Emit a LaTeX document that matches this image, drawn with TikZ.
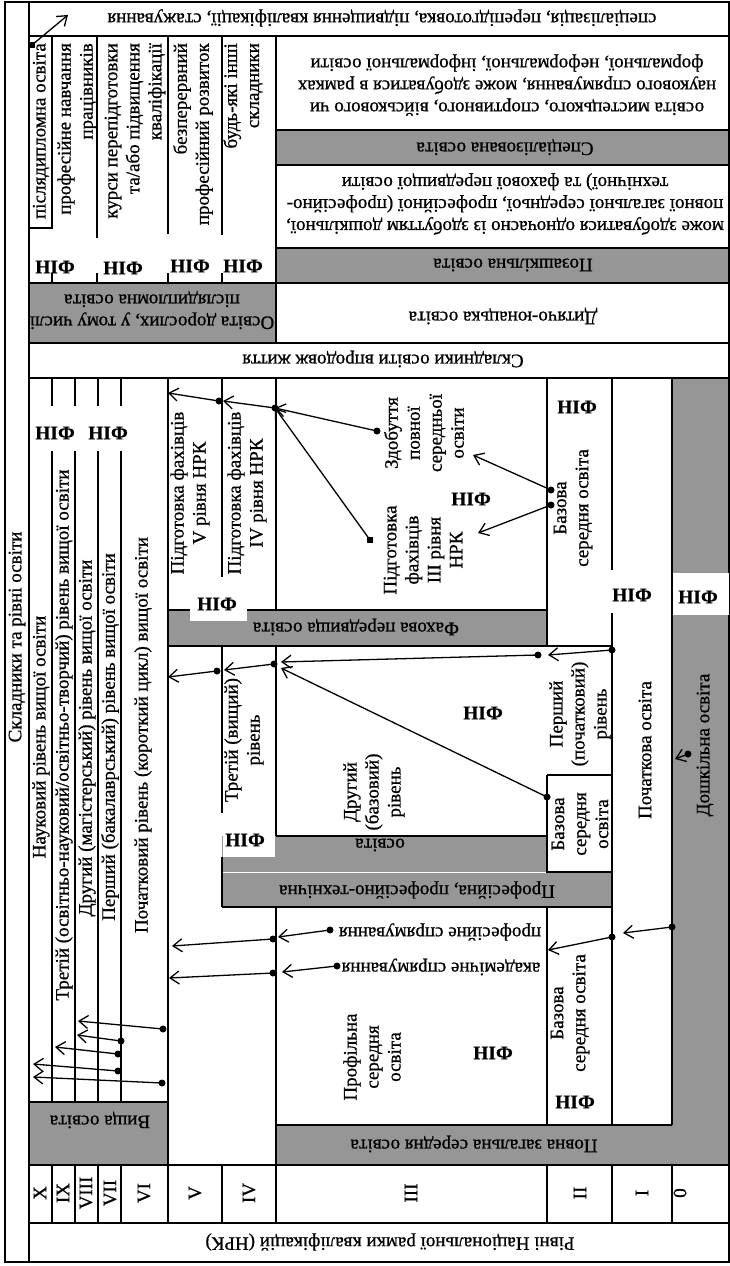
\documentclass[tikz,border=0pt]{standalone}
\usepackage{fontspec}
\setmainfont{Liberation Serif}[FakeBold=0.8]
\usetikzlibrary{arrows.meta}
\definecolor{band}{RGB}{150,150,150}
\begin{document}
\begin{tikzpicture}[x=1pt,y=-1pt,
  tl/.style={line width=1.4pt},
  txt/.style={font=\fontsize{19}{22}\selectfont, inner sep=0pt, align=center},
  rtxt/.style={txt, rotate=90},
  ftxt/.style={txt, rotate=180},
  nif/.style={font=\fontsize{19.5}{22}\selectfont\bfseries, inner sep=0pt},
  arr/.style={line width=1.3pt, -{Straight Barb[length=9pt,width=13pt,line width=1.3pt]}},
  dot/.style={circle, fill=black, inner sep=0pt, minimum size=7pt},
  sq/.style={fill=black, inner sep=0pt, minimum size=6pt},
]
\useasboundingbox (0,0) rectangle (730,1266);
% gray bands
\fill[band] (276,130) rectangle (729,165);
\fill[band] (276,248) rectangle (729,283);
\fill[band] (29,283) rectangle (276,343);
\fill[band] (168,610) rectangle (547,646);
\fill[band] (222,836) rectangle (547,872);
\fill[band] (222,872) rectangle (612,907);
\fill[band] (672,378) rectangle (729,1165);
\fill[band] (276,1125) rectangle (672,1165);
\fill[band] (29,1102) rectangle (168,1165);
% frame
\draw[tl] (5,2) rectangle (729,1262);
\draw[tl] (29,2) -- (29,1262);
\foreach \yy in {36,283,343,378,1165,1223} \draw[tl] (29,\yy) -- (729,\yy);
% row 2
\draw[tl] (276,36) -- (276,343);
\foreach \yy in {130,165,248} \draw[tl] (276,\yy) -- (729,\yy);
\draw[tl] (52,36) -- (52,228) -- (29,228);
\draw[tl] (52,273) -- (52,283);
\foreach \xx/\ee in {97/238,168/234,222/235} {\draw[tl] (\xx,36) -- (\xx,\ee); \draw[tl] (\xx,273) -- (\xx,283);}
% higher education columns
\foreach \xx in {52,75,98,121} {\draw[tl] (\xx,378) -- (\xx,406); \draw[tl] (\xx,451) -- (\xx,1102); \draw[tl] (\xx,1165) -- (\xx,1223);}
\draw[tl] (29,1102) -- (168,1102);
\draw[tl] (168,378) -- (168,1223);
\draw[tl] (222,378) -- (222,577);
\draw[tl] (222,646) -- (222,813);
\draw[tl] (222,857) -- (222,907);
\draw[tl] (222,1165) -- (222,1223);
\draw[tl] (276,378) -- (276,610);
\draw[tl] (276,646) -- (276,836);
\draw[tl] (276,907) -- (276,1223);
\draw[tl] (168,610) -- (547,610);
\draw[tl] (168,646) -- (612,646);
\draw[tl] (276,836) -- (547,836);
\draw[tl] (222,907) -- (612,907);
\draw[white, line width=0.8pt] (223,872) -- (546,872);
\draw[tl] (547,378) -- (547,646);
\draw[tl] (547,775) -- (612,775);
\draw[tl] (547,775) -- (547,872) -- (612,872);
\draw[tl] (547,907) -- (547,1125);
\draw[tl] (547,1165) -- (547,1223);
\draw[tl] (612,378) -- (612,570);
\draw[tl] (612,613) -- (612,1125);
\draw[tl] (612,1165) -- (612,1223);
\draw[tl] (672,378) -- (672,1125);
\draw[tl] (672,1165) -- (672,1223);
\draw[tl] (276,1125) -- (672,1125);
% white boxes for NIF labels
\fill[white] (190,588) rectangle (247,621);
\fill[white] (223,813) rectangle (275,857);
\fill[white] (673,573) rectangle (729,615);

% ---- texts ----
\node[rtxt] (side) at (17,637) {Складники та рівні освіти};
\node[ftxt] (top) at (382,18) {спеціалізація, перепідготовка, підвищення кваліфікації, стажування};
\node[rtxt, align=right, anchor=east] (pd) at (41,43) {післядипломна освіта};
\node[rtxt, align=right, anchor=east] (pn) at (77,43) {професійне навчання\\працівників};
\node[rtxt, align=right, anchor=east] (kp) at (135,43) {курси перепідготовки\\та/або підвищення\\кваліфікації};
\node[rtxt, align=right, anchor=east] (bp) at (193,43) {безперервний\\професійний розвиток};
\node[rtxt, align=right, anchor=east] (bi) at (243,43) {будь-які інші\\складники};
\node[nif] (n1) at (55,267) {НІФ};
\node[nif] (n2) at (123,268) {НІФ};
\node[nif] (n3) at (190,266) {НІФ};
\node[nif] (n4) at (243,266) {НІФ};
\node[ftxt] (mist) at (507,85) {освіта мистецького, спортивного, військового чи\\наукового спрямування, може здобуватися в рамках\\формальної, неформальної, інформальної освіти};
\node[ftxt] (spec) at (505,147) {Спеціалізована освіта};
\node[ftxt] (odn) at (505,204) {може здобуватися одночасно із здобуттям дошкільної,\\повної загальної середньої, професійної (професійно-\\технічної) та фахової передвищої освіти};
\node[ftxt] (pozash) at (513,265) {Позашкільна освіта};
\node[ftxt] (dor) at (152,310) {Освіта дорослих, у тому числі\\післядипломна освіта};
\node[ftxt] (dyt) at (503,316) {Дитячо-юнацька освіта};
\node[ftxt] (skl) at (383,359) {Складники освіти впродовж життя};
% higher education
\node[rtxt] (h10) at (41,737) {Науковий рівень вищої освіти};
\node[rtxt] (h9) at (64,735) {Третій (освітньо-науковий/освітньо-творчий) рівень вищої освіти};
\node[rtxt] (h8) at (87,738) {Другий (магістерський) рівень вищої освіти};
\node[rtxt] (h7) at (110,737) {Перший (бакалаврський) рівень вищої освіти};
\node[rtxt] (h6) at (143,735) {Початковий рівень (короткий цикл) вищої освіти};
\node[nif] (n5) at (55,433) {НІФ};
\node[nif] (n6) at (108,433) {НІФ};
\node[ftxt] (vyshcha) at (100,1120) {Вища освіта};
% V, IV
\node[rtxt] (p5) at (190,493) {Підготовка фахівців\\V рівня НРК};
\node[rtxt] (p4) at (247,493) {Підготовка фахівців\\IV рівня НРК};
\node[nif] (n7) at (217,604) {НІФ};
\node[ftxt] (fakh) at (356,627) {Фахова передвища освіта};
\node[rtxt] (tretiy) at (244,740) {Третій (вищий)\\рівень};
\node[nif] (n8) at (245,840) {НІФ};
\node[ftxt] (osv) at (380,845) {освіта};
\node[ftxt] (prof) at (417,890) {Професійна, професійно-технічна};
% III
\node[rtxt] (zdob) at (424,433) {Здобуття\\повної\\середньої\\освіти};
\node[rtxt] (p3) at (423,550) {Підготовка\\фахівців\\III рівня\\НРК};
\node[nif] (n9) at (471,499) {НІФ};
\node[rtxt] (druh) at (374,792) {Другий\\(базовий)\\рівень};
\node[nif] (n10) at (483,713) {НІФ};
\node[ftxt] (profspr) at (440,932) {професійне спрямування};
\node[ftxt] (akspr) at (441,967) {академічне спрямування};
\node[rtxt] (profil) at (372,1057) {Профільна\\середня\\освіта};
\node[nif] (n11) at (493,1053) {НІФ};
\node[ftxt] (povna) at (474,1144) {Повна загальна середня освіта};
% II
\node[nif] (n12) at (577,407) {НІФ};
\node[rtxt] (baz1) at (573,508) {Базова\\середня освіта};
\node[rtxt] (persh) at (580,714) {Перший\\(початковий)\\рівень};
\node[rtxt] (baz2) at (580,824) {Базова\\середня\\освіта};
\node[rtxt] (baz3) at (570,1013) {Базова\\середня освіта};
\node[nif] (n13) at (575,1102) {НІФ};
% I, 0
\node[nif] (n14) at (632,595) {НІФ};
\node[rtxt] (poch) at (645,750) {Початкова освіта};
\node[nif] (n15) at (698,597) {НІФ};
\node[rtxt] (dosh) at (705,745) {Дошкільна освіта};
% levels
\foreach \xx/\lv in {40/X,63/IX,86/VIII,110/VII,144/VI,195/V,249/IV,411/III,580/II,642/I,680/0}
  \node[rtxt] at (\xx,1193) {\lv};
\node[ftxt] (nrk) at (390,1242) {Рівні Національної рамки кваліфікацій (НРК)};

% ---- arrows ----
\node[sq] (s0) at (32,45) {};
\coordinate (t0) at (68,15);
\draw[arr] (s0.center) -- (t0);
% group A
\node[dot] (a1) at (377,431) {};
\node[sq] (a2) at (370,540) {};
\node[dot] (hub1) at (275,408) {};
\draw[arr] (a1.center) -- (hub1.center);
\draw[arr] (a2.center) -- (hub1.center);
\node[dot] (b1) at (219,401) {};
\coordinate (tb1) at (223,401);
\draw[arr] (hub1.center) -- (tb1);
\coordinate (tb2) at (168,393);
\draw[arr] (b1.center) -- (tb2);
% group B
\node[dot] (c0) at (612,650) {};
\coordinate (tc0) at (548,655);
\draw[arr] (c0.center) -- (tc0);
\node[dot] (c1) at (538,655) {};
\node[dot] (c2) at (547,797) {};
\node[dot] (hub2) at (274,664) {};
\coordinate (tc1) at (281,662);
\coordinate (tc2) at (281,668);
\draw[arr] (c1.center) -- (tc1);
\draw[arr] (c2.center) -- (tc2);
\coordinate (td0) at (224,670);
\draw[arr] (hub2.center) -- (td0);
\node[dot] (d1) at (217,671) {};
\coordinate (td1) at (168,677);
\draw[arr] (d1.center) -- (td1);
% group C
\node[dot] (e0) at (672,927) {};
\coordinate (te0) at (623,933);
\draw[arr] (e0.center) -- (te0);
\node[dot] (e1) at (612,937) {};
\coordinate (te1) at (548,950);
\draw[arr] (e1.center) -- (te1);
\node[dot] (f1) at (330,930) {};
\coordinate (tf1) at (278,937);
\draw[arr] (f1.center) -- (tf1);
\node[dot] (hub3) at (273,939) {};
\coordinate (th3) at (172,946);
\draw[arr] (hub3.center) -- (th3);
\node[dot] (f2) at (337,966) {};
\coordinate (tf2) at (282,972);
\draw[arr] (f2.center) -- (tf2);
\node[dot] (hub4) at (273,973) {};
\coordinate (th4) at (169,978);
\draw[arr] (hub4.center) -- (th4);
% group D
\node[dot] (g1) at (551,490) {};
\coordinate (tg1) at (473,455);
\draw[arr] (g1.center) -- (tg1);
\node[dot] (g2) at (551,505) {};
\coordinate (tg2) at (478,533);
\draw[arr] (g2.center) -- (tg2);
% group E
\node[dot] (k0) at (688,754) {};
\coordinate (tk0) at (675,759);
\draw[arr] (k0.center) -- (tk0);
% group F
\node[dot] (m1) at (163,1029) {};
\node[dot] (m2) at (121,1041) {};
\node[dot] (m3) at (118,1054) {};
\node[dot] (m4) at (118,1071) {};
\node[dot] (m5) at (162,1083) {};
\coordinate (tm1) at (78,1021);
\coordinate (tm2) at (77,1035);
\coordinate (tm3) at (55,1047);
\coordinate (tm4) at (33,1064);
\coordinate (tm5) at (33,1077);
\foreach \i in {1,...,5} \draw[arr] (m\i.center) -- (tm\i);
\end{tikzpicture}
\end{document}
